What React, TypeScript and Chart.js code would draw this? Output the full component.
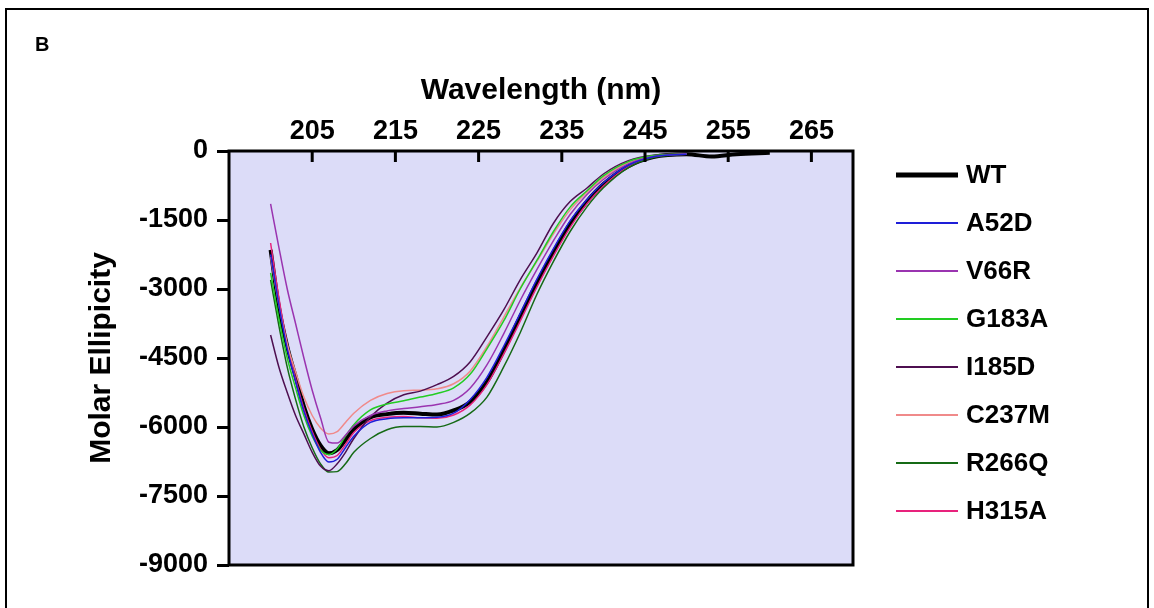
import React, { useEffect, useRef } from "react";
import { Chart, registerables } from "chart.js";

Chart.register(...registerables);

const FONT = "'Liberation Sans', Arial, Helvetica, sans-serif";

// Wavelength grid (nm) shared by all spectra
const WAVELENGTHS = [200, 201, 202, 203, 204, 205, 206, 207, 208, 209, 210, 212, 214, 216, 218, 220, 222, 224, 226, 228, 230, 232, 234, 236, 238, 240, 243, 246, 250];
// WT spectrum continues further
const WT_TAIL_WL = [253, 256, 260];

const WT = [-2150, -3400, -4250, -4900, -5550, -6050, -6400, -6570, -6500, -6280, -6050, -5790, -5720, -5690, -5710, -5730, -5640, -5450, -5020, -4350, -3600, -2870, -2200, -1580, -1100, -720, -330, -130, -70];
const WT_TAIL = [-120, -70, -40];
const A52D = [-2250, -3350, -4300, -5000, -5650, -6150, -6550, -6760, -6700, -6450, -6200, -5900, -5820, -5800, -5800, -5790, -5700, -5400, -4920, -4250, -3530, -2790, -2120, -1520, -1060, -690, -310, -125, -70];
const V66R = [-1150, -2100, -3000, -3750, -4500, -5200, -5800, -6330, -6350, -6180, -5980, -5750, -5650, -5600, -5560, -5510, -5420, -5150, -4650, -3980, -3250, -2580, -1950, -1380, -950, -620, -280, -120, -60];
const G183A = [-2650, -3650, -4500, -5150, -5750, -6200, -6500, -6600, -6480, -6200, -5950, -5630, -5500, -5430, -5350, -5270, -5150, -4850, -4300, -3700, -3000, -2380, -1750, -1220, -870, -540, -230, -100, -60];
const I185D = [-4000, -4700, -5250, -5750, -6150, -6550, -6850, -6950, -6800, -6550, -6250, -5780, -5480, -5300, -5220, -5080, -4900, -4580, -4040, -3460, -2800, -2220, -1570, -1100, -810, -500, -210, -90, -60];
const C237M = [-2300, -3350, -4200, -4800, -5350, -5750, -6020, -6150, -6100, -5900, -5700, -5420, -5270, -5210, -5200, -5170, -5060, -4780, -4250, -3620, -2980, -2400, -1800, -1280, -900, -580, -250, -110, -60];
const R266Q = [-2800, -3800, -4700, -5400, -6000, -6450, -6800, -6980, -6970, -6800, -6550, -6250, -6060, -5990, -5990, -6000, -5900, -5700, -5350, -4700, -3950, -3120, -2400, -1750, -1220, -800, -360, -140, -70];
const H315A = [-2000, -3200, -4200, -4950, -5600, -6100, -6480, -6670, -6620, -6380, -6120, -5860, -5790, -5770, -5800, -5810, -5740, -5520, -5080, -4420, -3700, -2960, -2280, -1660, -1150, -760, -340, -130, -70];

const SERIES_NAMES = ["WT", "A52D", "V66R", "G183A", "I185D", "C237M", "R266Q", "H315A"];
const SERIES_COLORS = ["#000000", "#1e1ed8", "#9a34b0", "#22cc22", "#4e0f50", "#f08a8a", "#156a15", "#e8227c"];
const SERIES_WIDTHS = [4, 1.5, 1.5, 1.5, 1.5, 1.5, 1.5, 1.5];

const X_TICKS = [205, 215, 225, 235, 245, 255, 265];
const X_MIN = 195;
const X_MAX = 270;
const Y_MIN = -9000;
const Y_MAX = 0;
const Y_STEP = 1500;

const toPoints = (xs: number[], ys: number[]) => xs.map((x, i) => ({ x, y: ys[i] }));

const decorPlugin = {
  id: "decor",
  beforeDatasetsDraw(chart: any) {
    const { ctx, chartArea: a } = chart;
    ctx.save();
    ctx.fillStyle = "#dcdcf8";
    ctx.fillRect(a.left, a.top, a.right - a.left, a.bottom - a.top);
    ctx.restore();
  },
  afterDatasetsDraw(chart: any) {
    const { ctx, chartArea: a } = chart;
    const xs = chart.scales.x;
    ctx.save();
    ctx.strokeStyle = "#000";
    ctx.lineWidth = 3;
    ctx.strokeRect(a.left, a.top, a.right - a.left, a.bottom - a.top);
    // inward tick marks on the top axis
    xs.ticks.forEach((t: any) => {
      const px = xs.getPixelForValue(t.value);
      ctx.beginPath();
      ctx.moveTo(px, a.top);
      ctx.lineTo(px, a.top + 11);
      ctx.stroke();
    });
    ctx.restore();
  },
  afterDraw(chart: any) {
    const { ctx } = chart;
    ctx.save();
    // outer panel border
    ctx.strokeStyle = "#000";
    ctx.lineWidth = 2;
    ctx.beginPath();
    ctx.moveTo(6, 612);
    ctx.lineTo(6, 9);
    ctx.lineTo(1148, 9);
    ctx.lineTo(1148, 612);
    ctx.stroke();
    // panel letter
    ctx.fillStyle = "#000";
    ctx.font = `bold 20px ${FONT}`;
    ctx.textBaseline = "middle";
    ctx.textAlign = "left";
    ctx.fillText("B", 35, 45);
    // legend
    chart.data.datasets.forEach((ds: any, i: number) => {
      const y = 175 + i * 48;
      ctx.strokeStyle = ds.borderColor;
      ctx.lineWidth = i === 0 ? 5 : 1.8;
      ctx.beginPath();
      ctx.moveTo(896, y);
      ctx.lineTo(958, y);
      ctx.stroke();
      ctx.fillStyle = "#000";
      ctx.font = `bold 26px ${FONT}`;
      ctx.fillText(ds.label, 966, y + 1);
    });
    ctx.restore();
  },
};

export default function App() {
  const canvasRef = useRef<HTMLCanvasElement | null>(null);

  useEffect(() => {
    if (!canvasRef.current) return;
    const seriesValues = [WT, A52D, V66R, G183A, I185D, C237M, R266Q, H315A];
    const datasets = SERIES_NAMES.map((name, i) => ({
      label: name,
      data: i === 0
        ? toPoints(WAVELENGTHS.concat(WT_TAIL_WL), WT.concat(WT_TAIL))
        : toPoints(WAVELENGTHS, seriesValues[i]),
      borderColor: SERIES_COLORS[i],
      backgroundColor: SERIES_COLORS[i],
      borderWidth: SERIES_WIDTHS[i],
      pointRadius: 0,
      fill: false,
      cubicInterpolationMode: "monotone" as const,
      order: i === 0 ? 10 : i,
    }));

    const chart = new Chart(canvasRef.current, {
      type: "line",
      data: { datasets },
      plugins: [decorPlugin],
      options: {
        animation: false,
        responsive: false,
        maintainAspectRatio: false,
        devicePixelRatio: 1,
        layout: { padding: { left: 0, right: 301, top: 0, bottom: 43 } },
        plugins: {
          legend: { display: false },
          tooltip: { enabled: false },
          title: { display: false },
        },
        scales: {
          x: {
            type: "linear",
            position: "top",
            min: X_MIN,
            max: X_MAX,
            afterBuildTicks: (scale: any) => {
              scale.ticks = X_TICKS.map((v) => ({ value: v }));
            },
            afterFit: (scale: any) => {
              scale.height = 151;
            },
            ticks: {
              color: "#000",
              font: { family: FONT, size: 27, weight: "bold" },
              padding: 3,
              maxRotation: 0,
              autoSkip: false,
              callback: (v: any) => String(v),
            },
            grid: { display: false, drawTicks: false, tickLength: 0 },
            border: { display: false },
            title: {
              display: true,
              text: "Wavelength (nm)",
              color: "#000",
              font: { family: FONT, size: 30, weight: "bold" },
              padding: { top: 73, bottom: 0 },
            },
          },
          y: {
            type: "linear",
            position: "left",
            min: Y_MIN,
            max: Y_MAX,
            afterFit: (scale: any) => {
              scale.width = 229;
            },
            ticks: {
              stepSize: Y_STEP,
              color: "#000",
              font: { family: FONT, size: 27, weight: "bold" },
              padding: 9,
              callback: (v: any) => String(v),
            },
            grid: {
              drawOnChartArea: false,
              drawTicks: true,
              tickLength: 12,
              lineWidth: 3,
              color: "#000",
            },
            border: { display: false },
            title: {
              display: true,
              text: "Molar Ellipicity",
              color: "#000",
              font: { family: FONT, size: 30, weight: "bold" },
              padding: { top: 84, bottom: 0 },
            },
          },
        },
      },
    });
    return () => chart.destroy();
  }, []);

  return (
    <div style={{ position: "absolute", left: 0, top: 0, width: 1154, height: 608, background: "#fff" }}>
      <canvas ref={canvasRef} width={1154} height={608} style={{ display: "block" }} />
    </div>
  );
}
